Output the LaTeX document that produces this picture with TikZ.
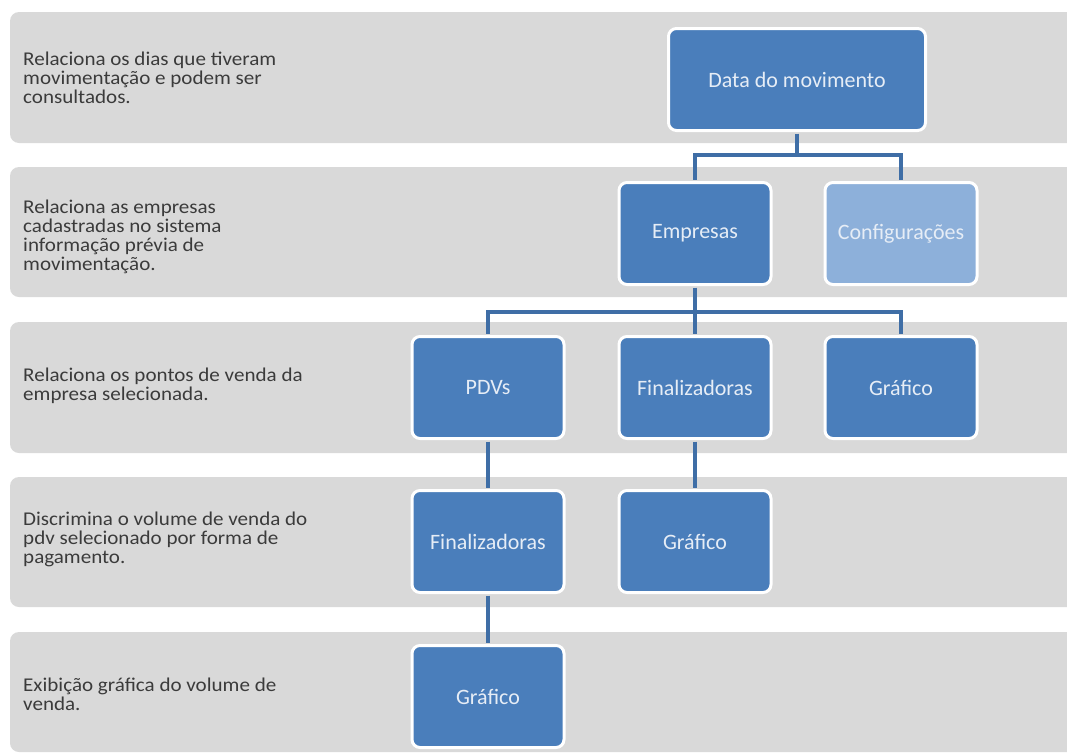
\documentclass[tikz,border=0pt]{standalone}
\usepackage{fontspec}
\setmainfont{Carlito}
\newfontfamily\desctxt[FakeStretch=1.08]{Carlito}
\definecolor{bandgray}{HTML}{D9D9D9}
\definecolor{boxblue}{HTML}{4A7EBB}
\definecolor{boxlight}{HTML}{8DB0DA}
\definecolor{linkblue}{HTML}{3F6EA6}
\definecolor{txtgray}{HTML}{3B3B3B}
\definecolor{boxtext}{HTML}{E6EDF6}
\begin{document}
\begin{tikzpicture}[x=1pt,y=-1pt,
  bandbox/.style={fill=bandgray, rounded corners=9pt},
  desc/.style={anchor=west, align=left, inner sep=0pt, text=txtgray,
    font=\desctxt\fontsize{19.5}{19}\selectfont},
  orgbox/.style={draw=white, line width=3pt, fill=boxblue, rounded corners=8pt,
    minimum width=152pt, minimum height=102pt, inner sep=0pt, text=boxtext,
    font=\fontsize{22}{24}\selectfont},
  lightbox/.style={orgbox, fill=boxlight},
  link/.style={draw=linkblue, line width=4pt, shorten >=1.5pt, shorten <=1.5pt}]
\path[use as bounding box] (0,0) rectangle (1067,755);
\clip (0,0) rectangle (1067,755);
\fill[white] (0,0) rectangle (1067,755);
% bands
\path[bandbox] (10,12) rectangle (1090,143);
\path[bandbox] (10,167) rectangle (1090,297);
\path[bandbox] (10,322) rectangle (1090,453);
\path[bandbox] (10,477) rectangle (1090,607);
\path[bandbox] (10,632) rectangle (1090,752);
% descriptions
\node[desc] (d1) at (23,78) {Relaciona os dias que tiveram\\movimentação e podem ser\\consultados.};
\node[desc] (d2) at (23,237) {Relaciona as empresas\\cadastradas no sistema\\informação prévia de\\movimentação.};
\node[desc] (d3) at (23,386) {Relaciona os pontos de venda da\\empresa selecionada.};
\node[desc] (d4) at (23,539) {Discrimina o volume de venda do\\pdv selecionado por forma de\\pagamento.};
\node[desc] (d5) at (23,694) {Exibição gráfica do volume de\\venda.};
% boxes
\node[orgbox, minimum width=257pt] (data) at (797,79.5) {Data do movimento};
\node[orgbox] (emp) at (695,233.5) {Empresas};
\node[lightbox] (conf) at (901,233.5) {Configurações};
\node[orgbox] (pdv) at (488,387.5) {PDVs};
\node[orgbox] (fin3) at (695,387.5) {Finalizadoras};
\node[orgbox] (graf3) at (901,387.5) {Gráfico};
\node[orgbox] (fin4) at (488,541.5) {Finalizadoras};
\node[orgbox] (graf4) at (695,541.5) {Gráfico};
\node[orgbox] (graf5) at (488,696.5) {Gráfico};
% connectors
\draw[link] (data.south) -- ++(0,23) coordinate (j1) -| (emp.north);
\draw[link] (j1) -| (conf.north);
\draw[link] (emp.south) -- ++(0,26) coordinate (j2) -| (pdv.north);
\draw[link] (j2) -- (fin3.north);
\draw[link] (j2) -| (graf3.north);
\draw[link] (pdv.south) -- (fin4.north);
\draw[link] (fin3.south) -- (graf4.north);
\draw[link] (fin4.south) -- (graf5.north);
\end{tikzpicture}
\end{document}
